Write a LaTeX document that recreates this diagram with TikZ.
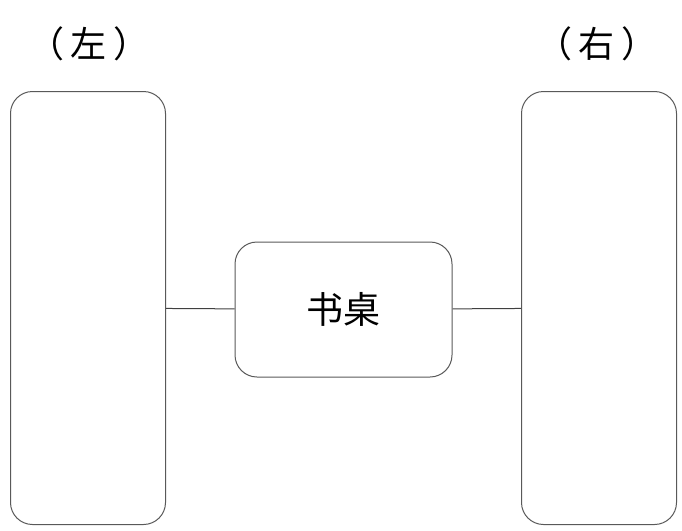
\documentclass[tikz,border=0pt]{standalone}
\usepackage{fontspec}
\newfontfamily\cjk{Noto Sans CJK SC}
\usetikzlibrary{positioning}

\begin{document}
\begin{tikzpicture}[x=1pt,y=-1pt,
  side node/.style={draw=black!65,line width=1pt,rounded corners=22pt,minimum width=155pt,minimum height=433pt,inner sep=0pt},
  desk node/.style={draw=black!65,line width=1pt,rounded corners=22pt,minimum width=217pt,minimum height=135pt,font=\cjk\fontsize{37}{40}\selectfont},
  label node/.style={font=\cjk\fontsize{36}{40}\selectfont,inner sep=0pt}]

  \useasboundingbox (0,0) rectangle (682,530);

  \node[side node] (left) at (88,308) {};
  \node[side node] (right) at (599,308) {};
  \node[desk node] (desk) at (343.5,309.5) {书桌};
  \node[label node] (lleft) at (89,44) {（\hspace{7pt}左\hspace{7pt}）};
  \node[label node] (lright) at (597,44) {（\hspace{7pt}右\hspace{7pt}）};

 \path[](left) [-,line width=1pt,black!75] edge node [] {} (desk);
 \path[](desk) [-,line width=1pt,black!75] edge node [] {} (right);
\end{tikzpicture}
\end{document}
